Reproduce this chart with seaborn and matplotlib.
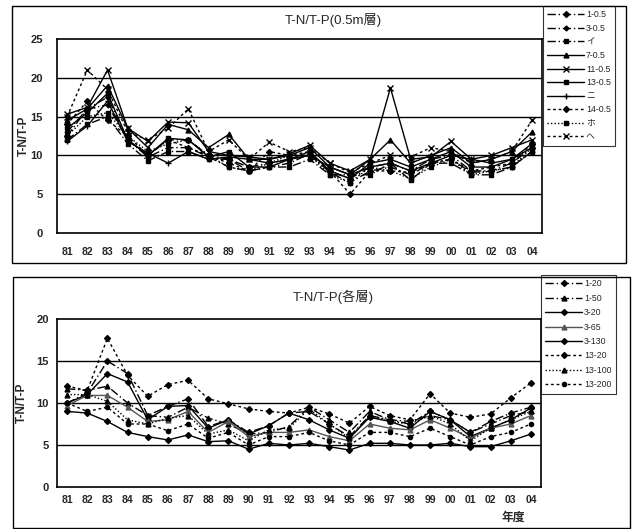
import matplotlib
matplotlib.use("Agg")
import matplotlib.pyplot as plt
import matplotlib.patches as mpatches
import seaborn as sns
import pandas as pd

sns.set_style("white")
plt.rcParams['font.family'] = ['Liberation Sans', 'Noto Sans CJK JP', 'DejaVu Sans']

years = ['81', '82', '83', '84', '85', '86', '87', '88', '89', '90', '91', '92',
         '93', '94', '95', '96', '97', '98', '99', '00', '01', '02', '03', '04']

# Top panel (0.5 m layer)
s_1_05 = [12.5, 16.0, 17.5, 12.0, 10.0, 12.0, 12.0, 10.0, 9.5, 8.5, 9.0, 9.5, 10.0, 8.0, 7.0, 8.5, 9.0, 8.0, 9.5, 10.0, 8.0, 8.0, 9.0, 11.0]
s_3_05 = [13.0, 16.0, 16.5, 12.0, 9.8, 11.0, 11.0, 9.8, 8.5, 8.0, 8.5, 9.0, 10.2, 7.8, 6.5, 8.0, 8.5, 7.5, 9.0, 9.5, 7.8, 8.0, 8.5, 10.5]
s_i = [12.0, 14.0, 15.0, 11.5, 9.3, 10.5, 10.5, 9.5, 9.5, 8.0, 8.5, 8.5, 9.5, 7.5, 7.5, 7.5, 9.0, 6.8, 9.0, 9.0, 7.5, 7.5, 8.5, 10.5]
s_7_05 = [14.5, 16.0, 19.0, 13.5, 11.0, 14.0, 13.3, 11.0, 12.7, 9.5, 9.5, 10.0, 11.0, 8.5, 7.5, 9.5, 12.0, 9.0, 10.0, 11.0, 9.0, 9.5, 10.5, 13.0]
s_11_05 = [15.3, 16.2, 21.0, 13.5, 11.8, 14.3, 14.2, 10.5, 10.0, 9.8, 9.5, 10.2, 11.3, 9.0, 8.0, 9.5, 18.7, 9.5, 9.8, 11.8, 9.5, 10.0, 11.0, 12.0]
s_13_05 = [13.5, 15.5, 18.0, 12.0, 10.0, 12.2, 12.0, 9.8, 10.5, 8.5, 8.5, 9.5, 10.5, 8.0, 7.0, 9.0, 9.5, 8.5, 9.5, 10.5, 8.5, 8.5, 9.5, 11.5]
s_ni = [11.8, 13.8, 17.0, 11.8, 10.3, 9.0, 10.5, 9.5, 9.8, 9.5, 9.0, 9.5, 10.0, 8.5, 7.5, 8.5, 9.0, 8.0, 9.0, 10.0, 9.5, 9.0, 9.5, 11.0]
s_14_05 = [14.0, 17.0, 14.5, 12.5, 10.0, 12.0, 11.0, 10.0, 9.0, 8.0, 10.5, 10.0, 10.5, 8.0, 5.0, 8.0, 8.0, 7.8, 9.0, 9.5, 8.0, 8.5, 9.0, 11.5]
s_ho = [12.5, 15.0, 15.5, 12.5, 10.5, 11.5, 12.0, 10.0, 8.5, 8.0, 9.0, 10.0, 10.0, 7.5, 6.5, 8.5, 8.0, 7.0, 8.5, 9.5, 7.5, 8.0, 8.5, 11.0]
s_he = [15.0, 21.0, 18.5, 13.0, 12.0, 13.5, 16.0, 10.5, 12.0, 9.5, 11.7, 10.5, 11.0, 9.0, 7.8, 9.0, 10.0, 9.8, 11.0, 10.5, 9.0, 9.5, 10.5, 14.5]

# Bottom panel (each layer)
b_1_20 = [10.0, 11.2, 15.0, 13.5, 8.5, 9.6, 10.5, 7.2, 8.0, 6.5, 7.3, 8.8, 9.0, 7.5, 6.0, 8.5, 8.0, 7.5, 9.0, 8.0, 6.5, 7.8, 8.8, 9.5]
b_1_50 = [11.7, 11.5, 12.0, 10.0, 8.5, 8.3, 9.5, 8.2, 7.5, 6.3, 6.5, 7.2, 9.5, 8.0, 6.5, 9.0, 8.0, 7.8, 8.5, 8.0, 6.5, 7.5, 8.5, 9.0]
b_3_20 = [10.0, 11.0, 13.5, 12.5, 8.0, 9.6, 9.7, 7.0, 8.0, 6.3, 7.3, 8.8, 8.0, 6.8, 5.8, 8.3, 7.8, 7.0, 9.0, 8.0, 6.0, 7.0, 8.0, 9.4]
b_3_65 = [9.7, 10.9, 10.9, 9.5, 7.8, 8.0, 9.0, 6.5, 7.8, 6.0, 6.5, 6.5, 6.8, 6.0, 5.5, 7.5, 7.0, 6.8, 8.0, 7.0, 5.8, 7.0, 7.5, 8.5]
b_3_130 = [9.0, 8.8, 7.8, 6.5, 6.0, 5.6, 6.2, 5.4, 5.5, 4.5, 5.2, 5.0, 5.2, 4.8, 4.4, 5.2, 5.2, 5.0, 5.0, 5.2, 4.8, 4.8, 5.5, 6.3]
b_13_20 = [12.0, 11.5, 17.7, 13.3, 10.8, 12.2, 12.7, 10.5, 9.9, 9.3, 9.0, 8.8, 9.5, 8.7, 7.6, 9.6, 8.5, 8.0, 11.1, 8.8, 8.3, 8.7, 10.6, 12.4]
b_13_100 = [11.0, 11.0, 10.2, 8.0, 7.5, 8.2, 8.5, 6.3, 6.8, 5.5, 6.8, 7.0, 9.3, 7.5, 5.8, 8.5, 7.8, 7.5, 8.5, 7.5, 5.5, 7.0, 8.0, 9.0]
b_13_200 = [10.0, 9.0, 9.5, 7.5, 7.5, 6.7, 7.5, 5.8, 6.5, 5.0, 6.0, 6.0, 6.5, 5.5, 5.0, 6.5, 6.5, 6.0, 7.0, 6.0, 5.0, 6.0, 6.5, 7.5]

top_series = [
    ('1-0.5', s_1_05, (0, (6, 2, 1, 2)), 'D', 3.0),
    ('3-0.5', s_3_05, (0, (6, 2, 1, 2)), 'D', 2.5),
    ('イ', s_i, (0, (6, 2, 1, 2)), 's', 3.0),
    ('7-0.5', s_7_05, '-', '^', 3.5),
    ('11-0.5', s_11_05, '-', 'x', 4.0),
    ('13-0.5', s_13_05, '-', 's', 3.0),
    ('ニ', s_ni, '-', '+', 4.0),
    ('14-0.5', s_14_05, (0, (2, 2)), 'D', 3.0),
    ('ホ', s_ho, (0, (1, 1.5)), 's', 3.0),
    ('ヘ', s_he, (0, (2, 2)), 'x', 4.0),
]
bottom_series = [
    ('1-20', b_1_20, (0, (6, 2, 1, 2)), 'D', 3.0, 'black'),
    ('1-50', b_1_50, (0, (6, 2, 1, 2)), '^', 3.5, 'black'),
    ('3-20', b_3_20, '-', 'D', 3.0, 'black'),
    ('3-65', b_3_65, '-', '^', 3.5, '#555555'),
    ('3-130', b_3_130, '-', 'D', 3.0, 'black'),
    ('13-20', b_13_20, (0, (2, 2)), 'D', 3.0, 'black'),
    ('13-100', b_13_100, (0, (1, 1.5)), '^', 3.5, 'black'),
    ('13-200', b_13_200, (0, (2, 2)), 'o', 3.0, 'black'),
]

W, H = 636, 529
fig = plt.figure(figsize=(W / 100, H / 100), dpi=100)

def fx(x):
    return x / W

def fy(y):
    return 1 - y / H

# outer frames
for (x0, y0, x1, y1) in [(12, 6, 626, 263), (13, 277, 630, 528)]:
    fig.add_artist(mpatches.Rectangle((fx(x0), fy(y1)), fx(x1) - fx(x0), fy(y0) - fy(y1),
                                      transform=fig.transFigure, fill=False,
                                      edgecolor='black', lw=1.0))

ax1 = fig.add_axes([fx(57), fy(233), fx(542) - fx(57), fy(39) - fy(233)])
ax2 = fig.add_axes([fx(57), fy(487), fx(541) - fx(57), fy(319) - fy(487)])

for name, vals, ls, mk, ms in top_series:
    sns.lineplot(x=years, y=vals, ax=ax1, color='black', linestyle=ls, lw=1.0,
                 marker=mk, markersize=ms, markeredgecolor='black', markeredgewidth=1.0,
                 label=name, sort=False)
for name, vals, ls, mk, ms, c in bottom_series:
    sns.lineplot(x=years, y=vals, ax=ax2, color=c, linestyle=ls, lw=1.0,
                 marker=mk, markersize=ms, markeredgecolor=c, markeredgewidth=1.0,
                 label=name, sort=False)

def style_ax(ax, ymax, xpad, ypad):
    ax.set_xlim(-0.5, len(years) - 0.5)
    ax.set_ylim(0, ymax)
    ax.set_yticks(range(0, ymax + 1, 5))
    for y in range(5, ymax, 5):
        ax.axhline(y, color='black', lw=1.0, zorder=0)
    for s in ax.spines.values():
        s.set_color('black')
        s.set_linewidth(1.2)
    ax.set_xticks(range(len(years)))
    ax.set_xticklabels(years, fontsize=7.5, fontweight='bold')
    ax.set_xticks([i + 0.5 for i in range(len(years) - 1)], minor=True)
    ax.tick_params(axis='x', which='major', length=0, pad=xpad)
    ax.tick_params(axis='x', which='minor', direction='in', length=3, width=1, color='black')
    ax.tick_params(axis='y', length=0, pad=ypad, labelsize=8)
    for t in ax.get_yticklabels():
        t.set_fontweight('bold')
    ax.set_xlabel('')
    ax.set_ylabel('T-N/T-P', fontsize=8.5, fontweight='bold', labelpad=4)

style_ax(ax1, 25, 10, 10)
style_ax(ax2, 20, 6, 6)
ax1.yaxis.set_label_coords(-0.056, 0.5)
ax2.yaxis.set_label_coords(-0.06, 0.5)

fig.text(fx(333), fy(20), 'T-N/T-P(0.5m層)', ha='center', va='center', fontsize=9.5)
fig.text(fx(333), fy(297), 'T-N/T-P(各層)', ha='center', va='center', fontsize=9.5)
fig.text(fx(513), fy(518), '年度', ha='center', va='center', fontsize=8.5, fontweight='bold')

leg1 = ax1.legend(loc='upper left', bbox_to_anchor=(fx(543), fy(6)), bbox_transform=fig.transFigure,
                  fontsize=6.3, handlelength=4.2, handletextpad=0.2, labelspacing=0.52,
                  frameon=True, fancybox=False, edgecolor='black', borderpad=0.5, borderaxespad=0)
leg1.get_frame().set_linewidth(0.8)
leg2 = ax2.legend(loc='upper left', bbox_to_anchor=(fx(541), fy(275)), bbox_transform=fig.transFigure,
                  fontsize=6.3, handlelength=4.2, handletextpad=0.2, labelspacing=0.62,
                  frameon=True, fancybox=False, edgecolor='black', borderpad=0.5, borderaxespad=0)
leg2.get_frame().set_linewidth(0.8)

fig.savefig('out.png', dpi=100)
